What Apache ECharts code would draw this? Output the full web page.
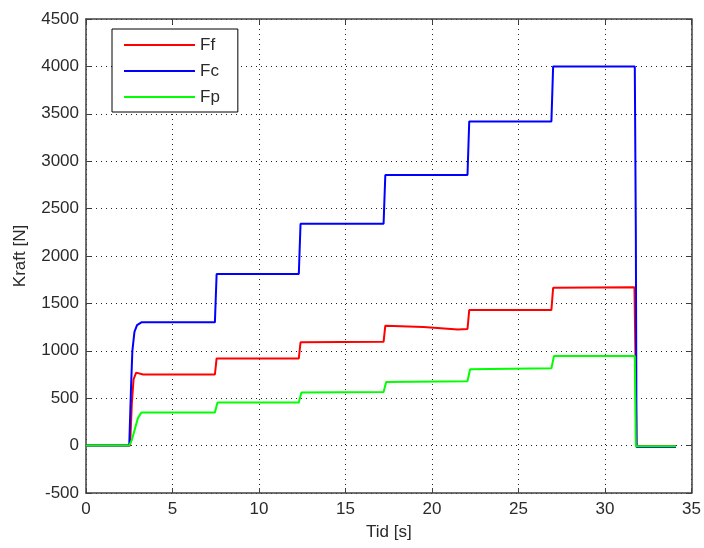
<!DOCTYPE html>
<html>
<head>
<meta charset="utf-8">
<script src="https://cdn.jsdelivr.net/npm/echarts@6/dist/echarts.min.js"></script>
<style>
  html, body { margin: 0; padding: 0; background: #fff; }
  #kraftchart { width: 704px; height: 548px; }
</style>
</head>
<body>
<div id="kraftchart"></div>
<script>
// Ff, Fc, Fp (time in s, force in N)
const ffTid   = [0, 2.55, 2.65, 2.75, 2.9, 3.3, 7.45, 7.55, 12.3, 12.4, 17.2, 17.3, 19.5, 21.5, 22.05, 22.15, 26.9, 27.0, 31.7, 31.75, 31.82, 34.1];
const ffKraft = [0, 0, 450, 700, 770, 750, 750, 920, 920, 1090, 1095, 1265, 1250, 1225, 1230, 1430, 1430, 1665, 1670, 1040, -5, -5];

const fcTid   = [0, 2.5, 2.6, 2.68, 2.8, 2.95, 3.2, 7.45, 7.55, 12.3, 12.4, 17.2, 17.3, 22.05, 22.15, 26.9, 27.0, 31.72, 31.78, 31.82, 34.1];
const fcKraft = [0, 0, 600, 1000, 1200, 1270, 1300, 1300, 1810, 1810, 2340, 2340, 2855, 2855, 3420, 3420, 4000, 4000, 2240, -15, -15];

const fpTid   = [0, 2.5, 2.65, 3.0, 3.2, 7.45, 7.6, 12.3, 12.45, 17.2, 17.35, 22.05, 22.2, 26.9, 27.05, 31.72, 31.78, 34.1];
const fpKraft = [0, 0, 60, 290, 350, 350, 455, 455, 560, 565, 670, 680, 805, 815, 945, 945, -8, -8];

const seriesNames = ['Ff', 'Fc', 'Fp'];
const seriesColors = ['#ff0000', '#0000ff', '#00ff00'];

const xTicks = { min: 0, max: 35, interval: 5 };
const yTicks = { min: -500, max: 4500, interval: 500 };

function pairs(t, v) {
    return t.map((x, i) => [x, v[i]]);
}

const chart = echarts.init(document.getElementById('kraftchart'));
const labelFont = { fontFamily: 'Liberation Sans, Arial, sans-serif', fontSize: 17, color: '#2a2a2a' };
const frameLine = { show: true, onZero: false, lineStyle: { color: '#404040', width: 1.5 } };
const gridLine = { show: true, lineStyle: { color: '#222', width: 1, type: [1, 4] } };
const plain = v => String(v);

var option = {
    animation: false,
    color: seriesColors,
    grid: { left: 86, right: 12, top: 19, bottom: 55 },
    legend: {
        orient: 'vertical',
        left: 112,
        top: 29,
        data: seriesNames,
        icon: 'rect',
        itemWidth: 71,
        itemHeight: 2,
        itemGap: 8,
        padding: [7, 18, 6, 12],
        borderColor: '#000',
        borderWidth: 1,
        backgroundColor: '#fff',
        textStyle: Object.assign({ lineHeight: 18 }, labelFont)
    },
    xAxis: [
        {
            type: 'value', min: xTicks.min, max: xTicks.max, interval: xTicks.interval,
            name: 'Tid [s]', nameLocation: 'middle', nameGap: 31,
            nameTextStyle: labelFont,
            axisLine: frameLine,
            axisTick: { show: true, inside: true, length: 5, lineStyle: { color: '#404040' } },
            axisLabel: Object.assign({ margin: 8, formatter: plain }, labelFont),
            splitLine: gridLine
        },
        {
            type: 'value', position: 'top', min: xTicks.min, max: xTicks.max, interval: xTicks.interval,
            axisLine: frameLine,
            axisTick: { show: true, inside: true, length: 5, lineStyle: { color: '#404040' } },
            axisLabel: { show: false },
            splitLine: { show: false }
        }
    ],
    yAxis: [
        {
            type: 'value', min: yTicks.min, max: yTicks.max, interval: yTicks.interval,
            name: 'Kraft [N]', nameLocation: 'middle', nameGap: 57,
            nameTextStyle: labelFont,
            axisLine: frameLine,
            axisTick: { show: true, inside: true, length: 5, lineStyle: { color: '#404040' } },
            axisLabel: Object.assign({ margin: 7, formatter: plain }, labelFont),
            splitLine: gridLine
        },
        {
            type: 'value', position: 'right', min: yTicks.min, max: yTicks.max, interval: yTicks.interval,
            axisLine: frameLine,
            axisTick: { show: true, inside: true, length: 5, lineStyle: { color: '#404040' } },
            axisLabel: { show: false },
            splitLine: { show: false }
        }
    ],
    series: [
        { name: 'Ff', type: 'line', data: pairs(ffTid, ffKraft) },
        { name: 'Fc', type: 'line', data: pairs(fcTid, fcKraft) },
        { name: 'Fp', type: 'line', data: pairs(fpTid, fpKraft) }
    ].map(s => Object.assign(s, {
        symbol: 'none',
        lineStyle: { width: 2 },
        xAxisIndex: 0,
        yAxisIndex: 0
    }))
};
chart.setOption(option);
</script>
</body>
</html>
